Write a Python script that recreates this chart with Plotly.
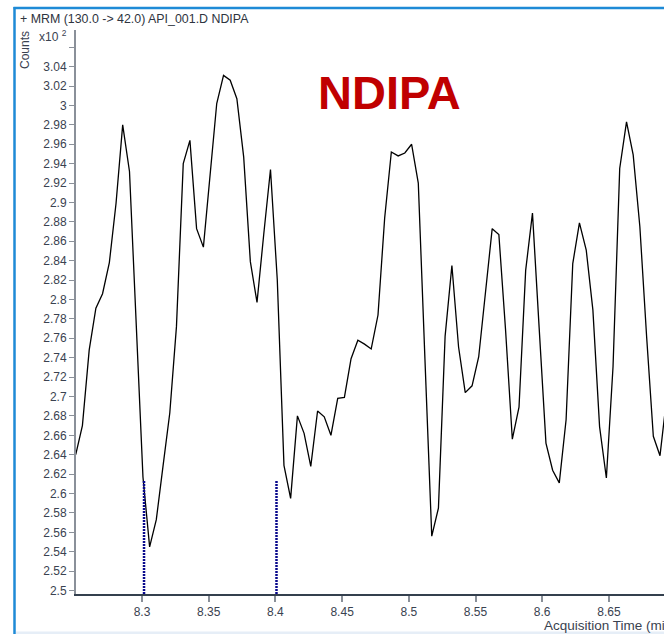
import plotly.graph_objects as go

# MRM chromatogram: acquisition time (min) and counts (x10^2)
acq_time = [
    8.2503, 8.2553, 8.2604, 8.2654, 8.2704, 8.2755, 8.2805, 8.2855, 8.2906, 8.2956,
    8.3007, 8.3057, 8.3107, 8.3158, 8.3208, 8.3258, 8.3309, 8.3359, 8.3409, 8.3460,
    8.3510, 8.3560, 8.3611, 8.3661, 8.3711, 8.3762, 8.3812, 8.3862, 8.3913, 8.3963,
    8.4014, 8.4064, 8.4114, 8.4165, 8.4215, 8.4265, 8.4316, 8.4366, 8.4416, 8.4467,
    8.4517, 8.4567, 8.4618, 8.4668, 8.4718, 8.4769, 8.4819, 8.4869, 8.4920, 8.4970,
    8.5021, 8.5071, 8.5121, 8.5172, 8.5222, 8.5272, 8.5323, 8.5373, 8.5423, 8.5474,
    8.5524, 8.5574, 8.5625, 8.5675, 8.5725, 8.5776, 8.5826, 8.5876, 8.5927, 8.5977,
    8.6028, 8.6078, 8.6128, 8.6179, 8.6229, 8.6279, 8.6330, 8.6380, 8.6430, 8.6481,
    8.6531, 8.6581, 8.6632, 8.6682, 8.6732, 8.6783, 8.6833, 8.6883, 8.6934,
]
counts = [
    2.640, 2.670, 2.748, 2.791, 2.806, 2.838, 2.899, 2.980, 2.932, 2.772,
    2.617, 2.545, 2.573, 2.629, 2.683, 2.772, 2.940, 2.964, 2.873, 2.854,
    2.928, 3.002, 3.031, 3.026, 3.007, 2.947, 2.839, 2.797, 2.868, 2.934,
    2.820, 2.629, 2.595, 2.680, 2.662, 2.628, 2.685, 2.679, 2.660, 2.698,
    2.699, 2.739, 2.758, 2.754, 2.749, 2.784, 2.884, 2.952, 2.948, 2.951,
    2.960, 2.920, 2.738, 2.556, 2.585, 2.762, 2.835, 2.751, 2.704, 2.711,
    2.741, 2.803, 2.873, 2.867, 2.769, 2.656, 2.689, 2.830, 2.889, 2.771,
    2.652, 2.624, 2.611, 2.676, 2.837, 2.879, 2.851, 2.789, 2.669, 2.616,
    2.731, 2.935, 2.983, 2.949, 2.875, 2.761, 2.659, 2.639, 2.700,
]

# Integration boundary markers (start / end) and their height
marker_times = [8.3015, 8.4008]
marker_top = 2.613

x_range = [8.2505, 8.6913]
y_range = [2.4964, 3.0778]

x_ticks = [8.3, 8.35, 8.4, 8.45, 8.5, 8.55, 8.6, 8.65]
x_tick_text = ["8.3", "8.35", "8.4", "8.45", "8.5", "8.55", "8.6", "8.65"]
y_ticks = [2.5, 2.52, 2.54, 2.56, 2.58, 2.6, 2.62, 2.64, 2.66, 2.68, 2.7,
           2.72, 2.74, 2.76, 2.78, 2.8, 2.82, 2.84, 2.86, 2.88, 2.9, 2.92,
           2.94, 2.96, 2.98, 3.0, 3.02, 3.04, 3.06]
y_tick_text = ["2.5", "2.52", "2.54", "2.56", "2.58", "2.6", "2.62", "2.64",
               "2.66", "2.68", "2.7", "2.72", "2.74", "2.76", "2.78", "2.8",
               "2.82", "2.84", "2.86", "2.88", "2.9", "2.92", "2.94", "2.96",
               "2.98", "3", "3.02", "3.04", ""]

title_text = "+ MRM (130.0 -> 42.0) API_001.D NDIPA"
compound = "NDIPA"

FONT = "Liberation Sans, Arial, sans-serif"
TEXT_COLOR = "#3a4250"

fig = go.Figure()

fig.add_trace(go.Scatter(
    x=acq_time, y=counts, mode="lines",
    line=dict(color="black", width=1.3),
    hoverinfo="skip", showlegend=False,
))

for t in marker_times:
    fig.add_trace(go.Scatter(
        x=[t, t], y=[y_range[0], marker_top], mode="lines",
        line=dict(color="#08088c", width=2.5, dash="2px,1px"),
        hoverinfo="skip", showlegend=False,
    ))

W, H = 664, 634
L, R, T, B = 76, 0, 30, 40
pw, ph = W - L - R, H - T - B


def px_x(p):
    return (p - L) / pw


def px_y(p):
    return (H - B - p) / ph


fig.update_layout(
    width=W, height=H,
    margin=dict(l=L, r=R, t=T, b=B, pad=0),
    paper_bgcolor="white", plot_bgcolor="white",
    font=dict(family=FONT, size=12, color=TEXT_COLOR),
    xaxis=dict(
        range=x_range, tickvals=x_ticks, ticktext=x_tick_text,
        showgrid=False, zeroline=False,
        showline=True, linecolor="#34404e", linewidth=2,
        ticks="outside", ticklen=6, tickwidth=2, tickcolor="#8a9099",
        tickfont=dict(size=12, color=TEXT_COLOR),
    ),
    yaxis=dict(
        range=y_range, tickvals=y_ticks, ticktext=y_tick_text,
        showgrid=False, zeroline=False,
        showline=True, linecolor="#8a9099", linewidth=2,
        ticks="outside", ticklen=5, tickwidth=1, tickcolor="#8a9099",
        tickfont=dict(size=12, color=TEXT_COLOR),
    ),
    shapes=[
        # window frame: top and left edges, light strip at the bottom
        dict(type="line", xref="paper", yref="paper",
             x0=px_x(13.5), x1=px_x(700), y0=px_y(8), y1=px_y(8),
             line=dict(color="#1e8ad6", width=2.5)),
        dict(type="line", xref="paper", yref="paper",
             x0=px_x(14.5), x1=px_x(14.5), y0=px_y(7), y1=px_y(640),
             line=dict(color="#1e8ad6", width=2.5)),
        dict(type="rect", xref="paper", yref="paper",
             x0=px_x(16), x1=px_x(700), y0=px_y(631.5), y1=px_y(640),
             fillcolor="#e6eef7", line=dict(width=0)),
    ],
    annotations=[
        dict(text=title_text, xref="paper", yref="paper",
             x=px_x(17.5), y=px_y(19), xanchor="left", yanchor="middle",
             showarrow=False, font=dict(size=12.4, color="#2e3440")),
        dict(text="Counts", xref="paper", yref="paper",
             x=px_x(25), y=px_y(50), xanchor="center", yanchor="middle",
             textangle=-90, showarrow=False,
             font=dict(size=12, color=TEXT_COLOR)),
        dict(text="x10 <sup>2</sup>", xref="paper", yref="paper",
             x=px_x(37), y=px_y(36), xanchor="left", yanchor="middle",
             showarrow=False, font=dict(size=12, color=TEXT_COLOR)),
        dict(text="Acquisition Time (min)", xref="paper", yref="paper",
             x=px_x(541.5), y=px_y(625), xanchor="left", yanchor="middle",
             showarrow=False, font=dict(size=13.5, color=TEXT_COLOR)),
        dict(text="<b>" + compound + "</b>", xref="paper", yref="paper",
             x=px_x(389), y=px_y(92), xanchor="center", yanchor="middle",
             showarrow=False, font=dict(size=47, color="#c00000")),
    ],
)

fig.write_html("out.html", config={"displayModeBar": False})
